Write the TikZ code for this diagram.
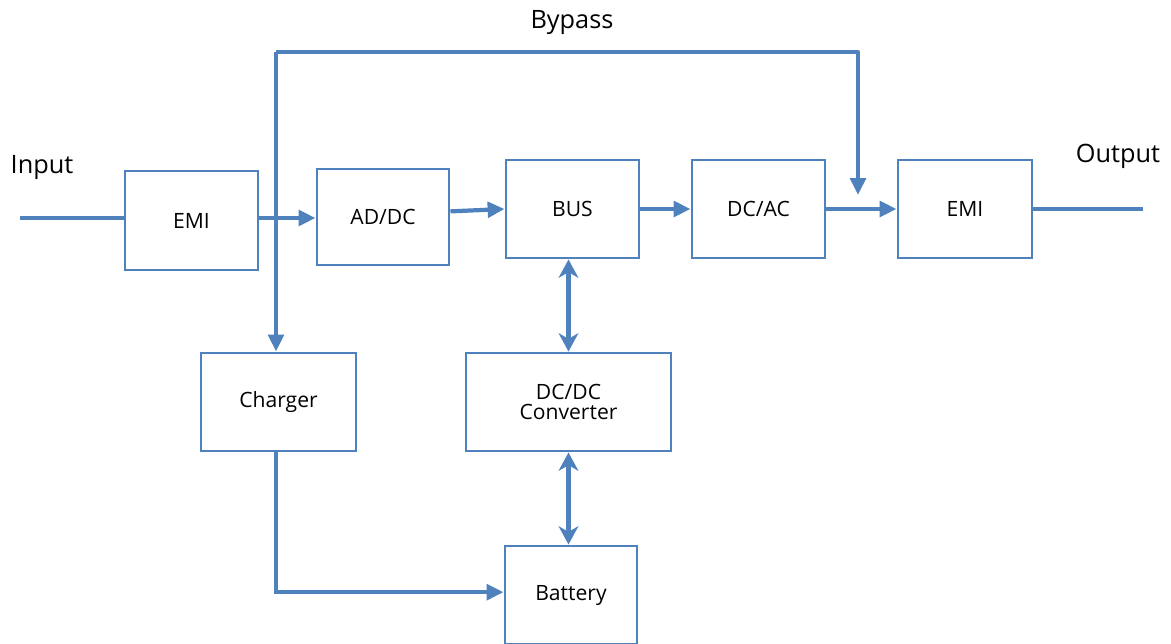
\documentclass[tikz,border=0pt]{standalone}
\usepackage{fontspec}
\setmainfont{Open Sans}
\usetikzlibrary{arrows.meta}

\definecolor{upsblue}{RGB}{79,129,189}

\tikzset{
  block/.style={draw=upsblue,line width=2.1pt,rectangle,inner sep=0pt,
    minimum width=133*0.025cm,minimum height=98*0.025cm,
    align=center,font=\fontsize{15}{17}\selectfont},
  conn/.style={upsblue,line width=3pt},
  onearrow/.style={conn,-{Triangle[length=12pt,width=11pt]}},
  twoarrow/.style={conn,{Stealth[length=13pt,width=14pt,inset=4pt]}-{Stealth[length=13pt,width=14pt,inset=4pt]}},
  label/.style={font=\fontsize{18}{20}\selectfont}
}

\begin{document}
\begin{tikzpicture}[x=0.025cm,y=-0.025cm]
  \useasboundingbox (0,0) rectangle (1171,644);

  % blocks
  \node[block,minimum height=99*0.025cm] (emi1) at (191.5,220.5) {EMI};
  \node[block,minimum width=132*0.025cm,minimum height=96*0.025cm] (addc) at (383,217) {AD/DC};
  \node[block] (bus) at (572.5,209) {BUS};
  \node[block] (dcac) at (758.5,209) {DC/AC};
  \node[block,minimum width=134*0.025cm] (emi2) at (965,209) {EMI};
  \node[block,minimum width=155*0.025cm] (charger) at (278.5,402) {Charger};
  \node[block,minimum width=205*0.025cm] (dcdc) at (568.5,402) {DC/DC\\[-3pt]Converter};
  \node[block,minimum width=132*0.025cm] (battery) at (571,595) {Battery};

  % labels
  \node[label] (input) at (42,168) {Input};
  \node[label] (output) at (1118,156) {Output};
  \node[label] (bypass) at (572,23) {Bypass};

  \coordinate (in) at (20,218);
  \coordinate (out) at (1143,209);
  \coordinate (split) at (276,52);
  \coordinate (bp) at (858,52);

  % main path
  \draw[conn] (in) -- (in -| emi1.west);
  \draw[onearrow] (emi1.east |- in) -- (addc.west |- in);
  \draw[onearrow] ([yshift=4pt]addc.east) -- (bus.west);
  \draw[onearrow] (bus) -- (dcac);
  \draw[onearrow] (dcac) -- (emi2);
  \draw[conn] (emi2.east) -- (out);

  % bypass and charger feed
  \draw[onearrow] (split) -- (split |- charger.north);
  \draw[onearrow,line join=round] (split) -- (bp) -- ([yshift=10pt]bp |- dcac.east);

  % battery side
  \draw[twoarrow] (bus.south -| dcdc.north) -- (dcdc.north);
  \draw[twoarrow] (dcdc.south) -- (dcdc.south |- battery.north);
  \draw[onearrow] (split |- charger.south) |- ([yshift=2pt]battery.west);
\end{tikzpicture}
\end{document}
